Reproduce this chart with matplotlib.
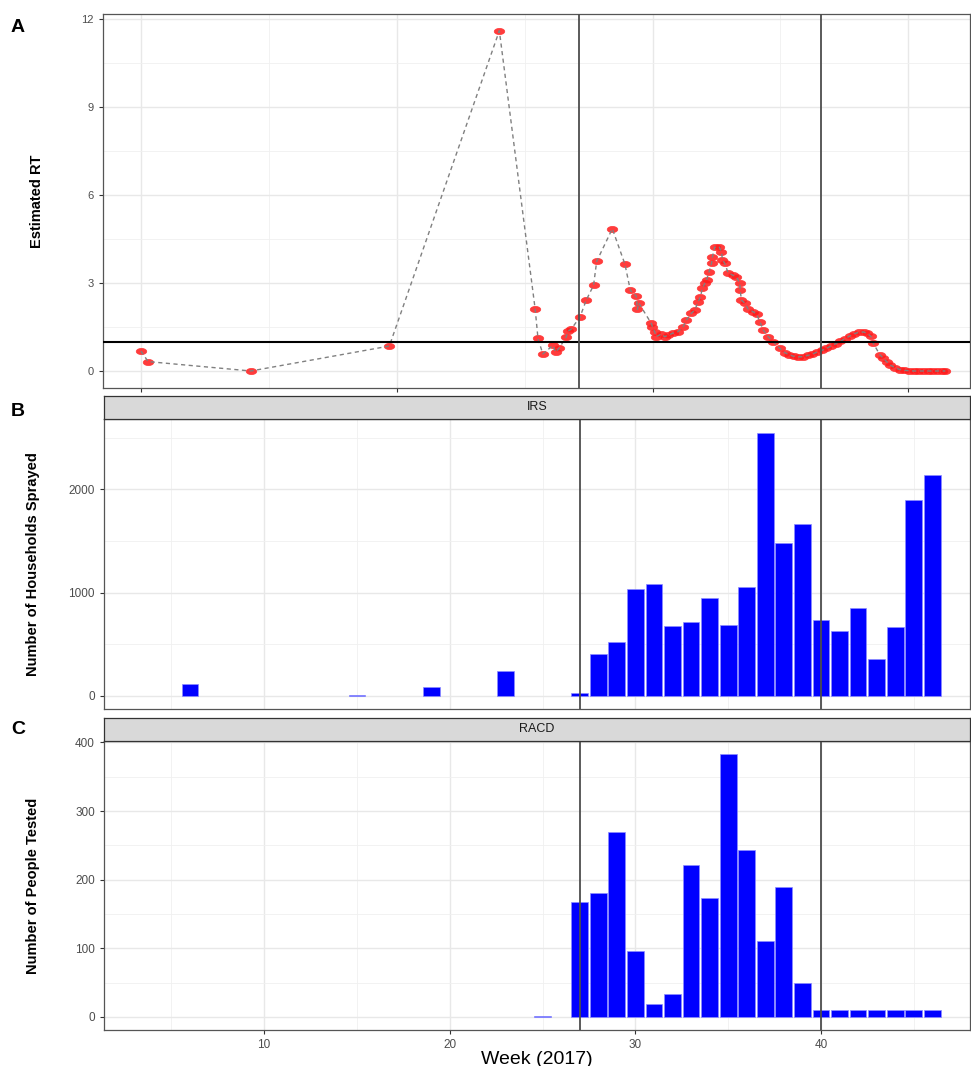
import numpy as np
import matplotlib.pyplot as plt
from matplotlib.ticker import FixedLocator, NullFormatter

plt.rcParams['font.family'] = ['Liberation Sans', 'DejaVu Sans']

# Panel A: estimated RT (x in week units)
rt_week = [3.41, 3.80, 9.33, 16.78, 22.70,
           24.63, 24.78, 25.04, 25.58, 25.73, 25.91, 26.30, 26.39, 26.57,
           27.04, 27.38, 27.77, 27.94, 28.78, 29.46, 29.75, 30.07, 30.13, 30.20,
           30.88, 30.94, 31.06, 31.15, 31.42, 31.60, 31.78, 32.05, 32.32, 32.59,
           32.77, 33.04, 33.22, 33.40, 33.52, 33.63, 33.76, 33.85, 33.99, 34.12,
           34.17, 34.29, 34.53, 34.65, 34.71, 34.83, 35.01, 35.25, 35.46, 35.64,
           35.66, 35.73, 35.91, 36.09, 36.36, 36.54, 36.72, 36.90, 37.17, 37.44,
           37.80, 38.05, 38.30, 38.55, 38.80, 39.05, 39.30, 39.55, 39.80, 40.05,
           40.30, 40.55, 40.80, 41.05, 41.30, 41.55, 41.80, 42.05, 42.30, 42.50,
           42.70, 42.82, 43.18, 43.35, 43.54, 43.75, 44.00, 44.26, 44.50, 44.75,
           45.00, 45.25, 45.50, 45.75, 46.00, 46.25, 46.50, 46.70]
rt_value = [0.68, 0.32, 0.00, 0.85, 11.60,
            2.10, 1.11, 0.58, 0.87, 0.64, 0.77, 1.16, 1.35, 1.43,
            1.84, 2.42, 2.92, 3.74, 4.85, 3.64, 2.75, 2.55, 2.10, 2.32,
            1.62, 1.51, 1.34, 1.17, 1.26, 1.17, 1.22, 1.29, 1.34, 1.51,
            1.74, 1.97, 2.08, 2.36, 2.53, 2.82, 2.99, 3.10, 3.39, 3.67,
            3.90, 4.22, 4.24, 4.07, 3.79, 3.67, 3.35, 3.27, 3.21, 2.99,
            2.76, 2.42, 2.31, 2.11, 2.02, 1.94, 1.68, 1.40, 1.17, 1.00,
            0.77, 0.63, 0.55, 0.50, 0.48, 0.49, 0.53, 0.58, 0.64, 0.70,
            0.77, 0.85, 0.93, 1.01, 1.10, 1.19, 1.27, 1.32, 1.33, 1.28,
            1.18, 0.95, 0.55, 0.45, 0.32, 0.20, 0.11, 0.05, 0.02, 0.01,
            0.00, 0.00, 0.00, 0.00, 0.00, 0.00, 0.00, 0.00]
rt_threshold = 1

# Panel B: IRS
irs_week = [6, 15, 19, 23, 27, 28, 29, 30, 31, 32, 33, 34, 35, 36, 37,
            38, 39, 40, 41, 42, 43, 44, 45, 46]
irs_count = [113, 13, 84, 239, 26, 406, 523, 1035, 1087, 674, 713, 952, 687,
             1052, 2548, 1481, 1661, 732, 632, 848, 355, 668, 1897, 2142]

# Panel C: RACD
racd_week = [25, 27, 28, 29, 30, 31, 32, 33, 34, 35, 36, 37, 38, 39,
             40, 41, 42, 43, 44, 45, 46]
racd_count = [2, 168, 180, 269, 96, 19, 34, 222, 174, 383, 243, 110, 190, 49,
              10, 10, 10, 10, 10, 10, 10]

intervention_weeks = [27, 40]

W, H = 971, 1066
fig = plt.figure(figsize=(W / 100, H / 100), dpi=100)


def box(top, bottom, left=104, right=970):
    return [left / W, 1 - bottom / H, (right - left) / W, (bottom - top) / H]


def style(ax):
    ax.set_facecolor('white')
    for s in ax.spines.values():
        s.set_color('#555555')
        s.set_linewidth(0.9)
    ax.grid(which='major', color='#E8E8E8', lw=1.0)
    ax.grid(which='minor', color='#F0F0F0', lw=0.6)
    ax.set_axisbelow(True)
    ax.tick_params(which='major', length=3, color='#333333', labelcolor='#4D4D4D')
    ax.tick_params(which='minor', length=0)


xlim = (1.37, 48.03)
ylab_size = 10.5

# ---- A
axA = fig.add_axes(box(14, 388, left=103))
style(axA)
axA.set_xlim(xlim)
axA.set_ylim(-0.58, 12.17)
axA.xaxis.set_major_locator(FixedLocator([3.42, 17.17, 30.96, 44.69]))
axA.xaxis.set_minor_locator(FixedLocator([10.3, 24.07, 37.83]))
axA.xaxis.set_major_formatter(NullFormatter())
axA.yaxis.set_major_locator(FixedLocator([0, 3, 6, 9, 12]))
axA.yaxis.set_minor_locator(FixedLocator([1.5, 4.5, 7.5, 10.5]))
axA.tick_params(axis='y', labelsize=8)

t = np.linspace(0, 2 * np.pi, 40)
ellipse = list(zip(1.7 * np.cos(t), np.sin(t)))
axA.plot(rt_week, rt_value, ls='none', marker=ellipse, ms=7.5, mfc='#FF1A1A',
         mec='#FF3333', mew=0.6, alpha=0.85, zorder=3)
axA.plot(rt_week, rt_value, ls=(0, (3, 2.5)), color='#808080', lw=1.0, zorder=4)
axA.axhline(rt_threshold, color='black', lw=1.5, zorder=5)
for w in intervention_weeks:
    axA.axvline(w, color='#4D4D4D', lw=1.3, zorder=5)
axA.set_ylabel('Estimated RT', fontsize=ylab_size, fontweight='bold')
axA.yaxis.set_label_coords(-0.068, 0.5)

# ---- B and C
panels = [
    ('IRS', irs_week, irs_count, 'Number of Households Sprayed', 396, 419, 709,
     (-127, 2681), [0, 1000, 2000], [500, 1500, 2500]),
    ('RACD', racd_week, racd_count, 'Number of People Tested', 718, 741, 1030,
     (-19, 402), [0, 100, 200, 300, 400], [50, 150, 250, 350]),
]
axes = []
for name, wk, cnt, ylab, strip_top, top, bottom, ylim, yt, ymt in panels:
    ax = fig.add_axes(box(top, bottom))
    style(ax)
    ax.bar(wk, cnt, width=0.9, color='#0000FF', edgecolor='#8C8CFF', lw=0.5, zorder=3)
    for w in intervention_weeks:
        ax.axvline(w, color='#4D4D4D', lw=1.3, zorder=4)
    ax.set_xlim(xlim)
    ax.set_ylim(ylim)
    ax.xaxis.set_major_locator(FixedLocator([10, 20, 30, 40]))
    ax.xaxis.set_minor_locator(FixedLocator([5, 15, 25, 35, 45]))
    ax.yaxis.set_major_locator(FixedLocator(yt))
    ax.yaxis.set_minor_locator(FixedLocator(ymt))
    ax.tick_params(labelsize=8.5)
    ax.set_ylabel(ylab, fontsize=ylab_size, fontweight='bold')
    ax.yaxis.set_label_coords(-0.074, 0.5)

    sx = fig.add_axes(box(strip_top, top))
    sx.set_facecolor('#D9D9D9')
    sx.set_xticks([])
    sx.set_yticks([])
    for s in sx.spines.values():
        s.set_color('#333333')
        s.set_linewidth(0.9)
    sx.text(0.5, 0.5, name, ha='center', va='center', fontsize=9, color='#1A1A1A',
            transform=sx.transAxes)
    axes.append(ax)

axB, axC = axes
axB.tick_params(axis='x', length=0, labelbottom=False)
axC.set_xlabel('Week (2017)', fontsize=14, labelpad=0)

for letter, y in [('A', 27), ('B', 412), ('C', 730)]:
    fig.text(18 / W, 1 - y / H, letter, fontsize=14, fontweight='bold',
             ha='center', va='center')

fig.savefig('out.png', dpi=100)
